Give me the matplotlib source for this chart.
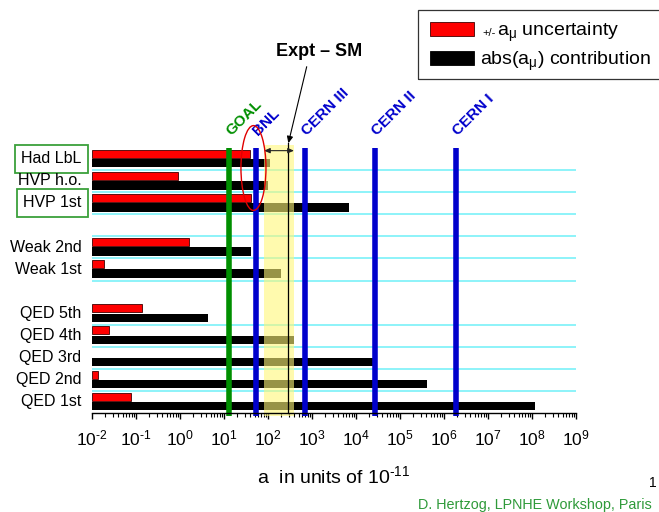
import numpy as np
import matplotlib
matplotlib.use("Agg")
import matplotlib.pyplot as plt
from matplotlib import font_manager
from matplotlib.patches import Rectangle, Ellipse
from matplotlib.ticker import LogLocator, FixedLocator, NullFormatter, FuncFormatter

# ---------------------------------------------------------------- data
groups = [
    ["Had LbL", "HVP h.o.", "HVP 1st"],
    ["Weak 2nd", "Weak 1st"],
    ["QED 5th", "QED 4th", "QED 3rd", "QED 2nd", "QED 1st"],
]
# |a_mu| contribution of each term, units of 1e-11
contribution = [110, 98, 6920, 40.7, 195, 4.4, 381, 24050, 413217, 116140973]
# +/- uncertainty on each term, units of 1e-11
uncertainty = [39, 0.9, 42, 1.6, 0.019, 0.14, 0.024, 0.004, 0.0135, 0.078]
boxed_labels = ["Had LbL", "HVP 1st"]

# experimental precision of each measurement, units of 1e-11
exp_names = ["GOAL", "BNL", "CERN III", "CERN II", "CERN I"]
exp_values = [13, 53, 700, 27500, 1.84e6]
exp_colors = ["#008f00", "#0000cc", "#0000cc", "#0000cc", "#0000cc"]

expt_minus_sm = 290
expt_minus_sm_range = [81, 390]

x_lo, x_hi = 1e-2, 1e9

# ---------------------------------------------------------------- fonts
installed = {f.name for f in font_manager.fontManager.ttflist}
narrow = "Liberation Sans Narrow" if "Liberation Sans Narrow" in installed else "Liberation Sans"
plt.rcParams["font.family"] = ["Liberation Sans", "DejaVu Sans"]
plt.rcParams["mathtext.fontset"] = "custom"
plt.rcParams["mathtext.rm"] = narrow
plt.rcParams["mathtext.it"] = narrow
plt.rcParams["mathtext.bf"] = narrow

# ---------------------------------------------------------------- layout
labels, rows = [], []
r = 0
for g in groups:
    for name in g:
        labels.append(name)
        rows.append(r)
        r += 1
    r += 1
n_rows = r - 1
# row separators (none directly above the QED block)
separators = [1, 2, 3, 4, 5, 6, 8, 9, 10, 11]

W, H = 659, 512
fig = plt.figure(figsize=(W / 100, H / 100), dpi=100)
ax = fig.add_axes([92 / W, (H - 413) / H, 484 / W, 265 / H])
ax.set_xscale("log")
ax.set_xlim(x_lo, x_hi)
ax.set_ylim(n_rows, 0)

for s in separators:
    ax.axhline(s, color="#6ff0f8", lw=1.1, zorder=1)

y = np.array(rows, dtype=float)
contrib = np.array(contribution, dtype=float)
unc = np.array(uncertainty, dtype=float)
ax.barh(y + 0.69, contrib - x_lo, left=x_lo, height=0.38, color="black", lw=0, zorder=2)
vis = unc > x_lo
ax.barh(y[vis] + 0.26, unc[vis] - x_lo, left=x_lo, height=0.36, color="#ff0000",
        edgecolor="#400000", lw=0.6, zorder=2)

# Expt - SM band
ax.axvspan(expt_minus_sm_range[0], expt_minus_sm_range[1], ymin=-0.01, ymax=1.01,
           color=(1.0, 0.97, 0.47), alpha=0.6, lw=0, zorder=3, clip_on=False)

for name, v, c in zip(exp_names, exp_values, exp_colors):
    ax.axvline(v, ymin=-0.01, ymax=1.0, color=c, lw=4, zorder=4, clip_on=False,
               solid_capstyle="butt")
    ax.annotate(name, xy=(v, 1.0), xycoords=("data", "axes fraction"),
                xytext=(2, 12), textcoords="offset pixels", rotation=45,
                rotation_mode="anchor", ha="left", va="baseline", color=c,
                fontweight="bold", fontsize=11)

ax.axvline(expt_minus_sm, ymin=0, ymax=1.018, color="black", lw=0.9, zorder=5, clip_on=False)
ax.annotate("", xy=(expt_minus_sm_range[0], 0.99), xytext=(expt_minus_sm_range[1], 0.99),
            xycoords=("data", "axes fraction"), textcoords=("data", "axes fraction"),
            arrowprops=dict(arrowstyle="<|-|>,head_length=0.35,head_width=0.15",
                            color="#222222", lw=0.8, shrinkA=0, shrinkB=0),
            zorder=6, annotation_clip=False)
ax.annotate("", xy=(expt_minus_sm, 1.018), xycoords=("data", "axes fraction"),
            xytext=(306.7 / W, 1 - 66.7 / H), textcoords="figure fraction",
            arrowprops=dict(arrowstyle="-|>,head_length=0.4,head_width=0.18",
                            color="black", lw=0.8, shrinkA=0, shrinkB=0),
            zorder=6, annotation_clip=False)
fig.text(319 / W, 1 - 52 / H, "Expt – SM", ha="center", va="center",
         fontsize=13, fontweight="bold")

ax.add_patch(Ellipse((0.3336, 0.9245), 0.0517, 0.32, transform=ax.transAxes,
                     fill=False, ec="#e00000", lw=1.0, zorder=7, clip_on=False))

# ---------------------------------------------------------------- axes
for side in ("left", "top", "right"):
    ax.spines[side].set_visible(False)
ax.spines["bottom"].set_linewidth(1.0)
ax.spines["bottom"].set_zorder(6)
ax.xaxis.set_major_locator(LogLocator(base=10, numticks=20))
ax.xaxis.set_major_formatter(
    FuncFormatter(lambda v, pos: "10$^{\\text{%d}}$" % int(round(np.log10(v)))))
ax.xaxis.set_minor_locator(LogLocator(base=10, subs=np.arange(2, 10), numticks=20))
ax.xaxis.set_minor_formatter(NullFormatter())
ax.tick_params(axis="x", which="major", length=4.3, width=1.0, pad=7, labelsize=12.5)
ax.tick_params(axis="x", which="minor", length=2.9, width=0.8)

ax.yaxis.set_major_locator(FixedLocator(y + 0.42))
ax.set_yticklabels(labels)
ax.tick_params(axis="y", length=0, pad=7.5, labelsize=11.5)
for t in ax.get_yticklabels():
    if t.get_text() in boxed_labels:
        t.set_bbox(dict(boxstyle="square,pad=0.4", fc="white", ec="#3aa03a", lw=1.3))

ax.set_xlabel("a  in units of 10$^{\\text{-11}}$", fontsize=14, labelpad=12)

# ---------------------------------------------------------------- legend
fig.add_artist(Rectangle((418 / W, 1 - 79 / H), 300 / W, 69 / H, transform=fig.transFigure,
                         fill=False, ec="#333333", lw=0.9))
fig.add_artist(Rectangle((430 / W, 1 - 36 / H), 44 / W, 14 / H, transform=fig.transFigure,
                         fc="#ff0000", ec="#400000", lw=0.6))
fig.add_artist(Rectangle((430 / W, 1 - 65 / H), 44 / W, 14 / H, transform=fig.transFigure,
                         fc="black", ec="black", lw=0.6))
fig.text(482 / W, 1 - 35.5 / H, "+/-", fontsize=8, va="baseline")
fig.text(496.5 / W, 1 - 35.5 / H, r"a$_{\mu}$ uncertainty", fontsize=14, va="baseline")
fig.text(480 / W, 1 - 65 / H, r"abs(a$_{\mu}$) contribution", fontsize=14, va="baseline")

# ---------------------------------------------------------------- footer
fig.text(657 / W, 1 - 483 / H, "1", fontsize=10, ha="right", va="center")
fig.text(418 / W, 1 - 509 / H, "D. Hertzog, LPNHE Workshop, Paris", fontsize=10.4,
         color="#2f9a3a", va="baseline")

fig.savefig("out.png", dpi=100)
